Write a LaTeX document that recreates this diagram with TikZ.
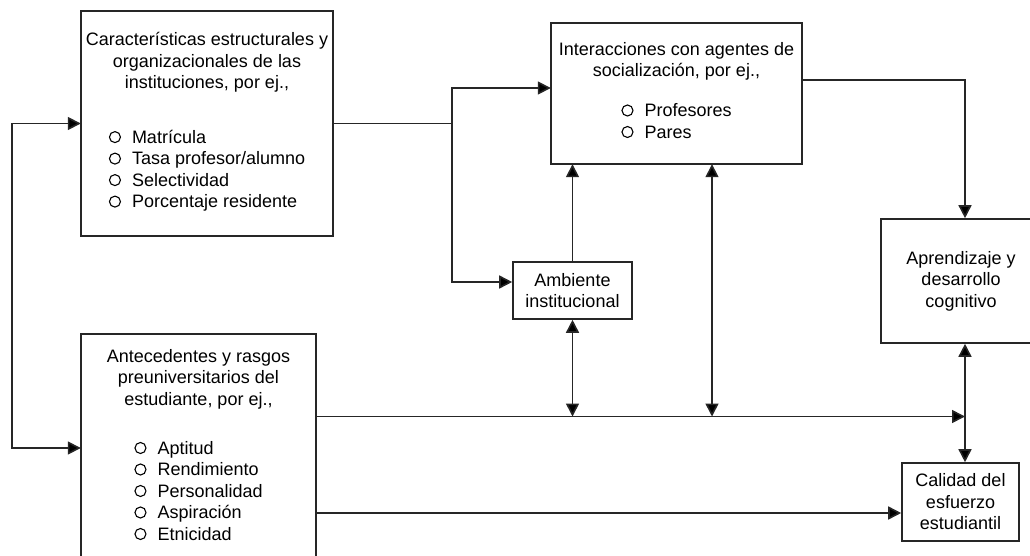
\documentclass[tikz,border=0pt]{standalone}
\usepackage{fontspec}
\setmainfont{Liberation Sans}
\usepackage{tikz}
\usetikzlibrary{arrows.meta,positioning}

\newcommand{\bul}{\tikz[baseline=-6.3pt]\draw[line width=1.1pt] (0,0) circle (5.5pt);\hspace{11pt}}

\begin{document}
\begin{tikzpicture}[x=1pt,y=-1pt,>={Triangle[length=13pt,width=13pt]},line width=1.6pt,draw=black!85,
	block/.style={draw,inner sep=0pt,align=center,font=\fontsize{18}{21.5}\selectfont},
	every edge/.style={draw,line width=1.6pt}]
  \useasboundingbox (0,0) rectangle (1030,556);
  \clip (0,0) rectangle (1030,556);
  % Institutions and student
  \node[block,minimum width=252pt,minimum height=225pt] (inst) at (207,123.5)
	  {Características estructurales y\\organizacionales de las\\instituciones, por ej.,\\[33pt]
	  \begin{tabular}[t]{@{}l@{}}\bul Matrícula\\\bul Tasa profesor/alumno\\\bul Selectividad\\\bul Porcentaje residente\end{tabular}};
  \node[block,minimum width=235pt,minimum height=228pt] (ante) at (198.5,448)
	  {Antecedentes y rasgos\\preuniversitarios del\\estudiante, por ej.,\\[27.5pt]
	  \begin{tabular}[t]{@{}l@{}}\bul Aptitud\\\bul Rendimiento\\\bul Personalidad\\\bul Aspiración\\\bul Etnicidad\end{tabular}};
  % Socialization and environment
  \node[block,minimum width=251pt,minimum height=141pt] (inter) at (676.5,93.5)
	  {Interacciones con agentes de\\socialización, por ej.,\\[18.5pt]
	  \begin{tabular}[t]{@{}l@{}}\bul Profesores\\\bul Pares\end{tabular}};
  \node[block,minimum width=119pt,minimum height=57pt] (amb) at (572.5,290.5) {Ambiente\\institucional};
  % Outcomes
  \node[block,minimum width=160pt,minimum height=124pt] (apr) at (961,281) {Aprendizaje y\\desarrollo\\cognitivo};
  \node[block,minimum width=117pt,minimum height=78pt] (cal) at (960.5,502) {Calidad del\\esfuerzo\\estudiantil};
  % Junctions
  \coordinate (split) at (452,123.5);
  \coordinate (mid) at (712,416.5);
  \coordinate (jn) at (965,416.5);
  % Connecting edges
  \draw[<->] (inst.west) -- ++(-69,0) |- (ante.west);
  \draw (inst.east) -- (split);
  \draw[->] (split) |- ([yshift=5.5pt]inter.west);
  \draw[->] (split) |- ([yshift=8.5pt]amb.west);
  \draw[->] ([yshift=13.5pt]inter.east) -| (apr.north -| jn);
  \draw[->] ([yshift=31.5pt]ante.east) -- (jn);
  \draw[->] ([yshift=-65pt]ante.east) -- ([yshift=-11pt]cal.west);
  \path
  (amb.north) edge[->] (amb.north |- inter.south)
  (amb.south) edge[<->] (amb.south |- jn)
  (mid |- inter.south) edge[<->] (mid)
  (apr.south -| jn) edge[<->] (cal.north -| jn);
\end{tikzpicture}
\end{document}
